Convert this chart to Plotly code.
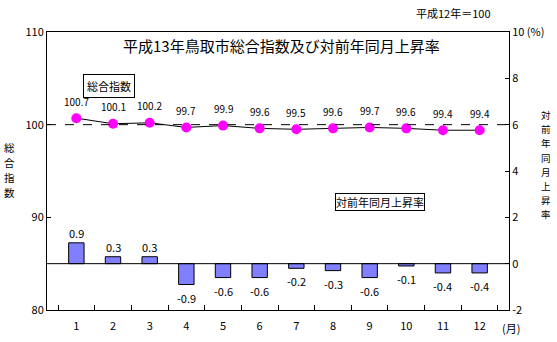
import plotly.graph_objects as go

months = ["1", "2", "3", "4", "5", "6", "7", "8", "9", "10", "11", "12"]
index_vals = [100.7, 100.1, 100.2, 99.7, 99.9, 99.6, 99.5, 99.6, 99.7, 99.6, 99.4, 99.4]
rate_vals = [0.9, 0.3, 0.3, -0.9, -0.6, -0.6, -0.2, -0.3, -0.6, -0.1, -0.4, -0.4]
left_ticks = [80, 90, 100, 110]
right_ticks = [-2, 0, 2, 4, 6, 8, 10]
right_tick_text = ["-2", "0", "2", "4", "6", "8", "10 (%)"]
left_title = "総合指数"
right_title = "対前年同月上昇率"

FONT = "Noto Sans CJK JP"
L, R, T, B = 47, 509, 32, 310

fig = go.Figure()

fig.add_trace(go.Bar(
    x=months, y=rate_vals, yaxis="y2", width=0.42,
    marker=dict(color="#8080FF", line=dict(color="black", width=1)),
    showlegend=False,
))
fig.add_trace(go.Scatter(
    x=months, y=index_vals, mode="lines+markers",
    line=dict(color="black", width=1),
    marker=dict(color="#FF00FF", size=10),
    showlegend=False,
))

# value labels for index line
for i, v in enumerate(index_vals):
    fig.add_annotation(x=i, y=v, text=f"{v:.1f}", showarrow=False, yshift=17,
                       xanchor="center", yanchor="middle",
                       font=dict(size=10, color="black", family=FONT))
# value labels for bars
for i, v in enumerate(rate_vals):
    fig.add_annotation(x=i, y=v, yref="y2", text=f"{v:.1f}",
                       showarrow=False, yshift=(10 if v >= 0 else -13),
                       xanchor="center", yanchor="middle",
                       font=dict(size=11, color="black", family=FONT))

# dashed reference at 100 and zero line
fig.add_shape(type="line", xref="paper", x0=0, x1=1, yref="y", y0=100, y1=100,
              line=dict(color="black", width=1, dash="dash"))
fig.add_shape(type="line", xref="paper", x0=0, x1=1, yref="y2", y0=0, y1=0,
              line=dict(color="black", width=1))

fig.update_layout(
    width=557, height=342,
    margin=dict(l=L, r=557 - R, t=T, b=342 - B),
    paper_bgcolor="white", plot_bgcolor="white",
    font=dict(family=FONT, size=10, color="black"),
    xaxis=dict(type="category", showline=True, linecolor="black", linewidth=1, mirror=True,
               ticks="inside", ticklen=5, tickcolor="black", tickson="boundaries",
               ticklabelstandoff=6, automargin=False,
               showgrid=False, tickfont=dict(size=11, family=FONT)),
    yaxis=dict(range=[80, 110], tickvals=left_ticks, showline=True, linecolor="black",
               linewidth=1, ticks="inside", ticklen=4, tickcolor="black", showgrid=False,
               zeroline=False, automargin=False, tickfont=dict(size=11, family=FONT)),
    yaxis2=dict(range=[-2, 10], tickvals=right_ticks, ticktext=right_tick_text, overlaying="y",
                side="right", showline=True, linecolor="black", linewidth=1, ticks="inside",
                ticklen=4, tickcolor="black", showgrid=False, zeroline=False, automargin=False,
                tickfont=dict(size=11, family=FONT)),
)

def paper_x(px):
    return (px - L) / float(R - L)

def paper_y(py):
    return (B - py) / float(B - T)

# title and notes
fig.add_annotation(xref="paper", yref="paper", x=paper_x(281), y=paper_y(45),
                   xanchor="center", yanchor="middle",
                   text="平成13年鳥取市総合指数及び対前年同月上昇率",
                   showarrow=False, font=dict(size=15, family=FONT))
fig.add_annotation(xref="paper", yref="paper", x=paper_x(493), y=paper_y(13),
                   xanchor="right", yanchor="middle",
                   text="平成12年＝100", showarrow=False, font=dict(size=11, family=FONT))
fig.add_annotation(xref="paper", yref="paper", x=paper_x(500), y=paper_y(328),
                   xanchor="left", yanchor="middle",
                   text="(月)", showarrow=False, font=dict(size=11, family=FONT))
# axis titles (vertical stacked, one char each)
for k, ch in enumerate(left_title):
    fig.add_annotation(xref="paper", yref="paper", x=paper_x(9), y=paper_y(147 + k * 15),
                       xanchor="center", yanchor="middle", text=ch,
                       showarrow=False, font=dict(size=10.5, family=FONT))
for k, ch in enumerate(right_title):
    fig.add_annotation(xref="paper", yref="paper", x=paper_x(546), y=paper_y(115 + k * 14.2),
                       xanchor="center", yanchor="middle", text=ch,
                       showarrow=False, font=dict(size=9.5, family=FONT))
# boxed labels
fig.add_annotation(xref="paper", yref="paper", x=paper_x(108.5), y=paper_y(86), text=left_title,
                   xanchor="center", yanchor="middle",
                   showarrow=False, bordercolor="black", borderwidth=1, borderpad=3,
                   bgcolor="white", font=dict(size=11, family=FONT))
fig.add_annotation(xref="paper", yref="paper", x=paper_x(380), y=paper_y(202), text=right_title,
                   xanchor="center", yanchor="middle",
                   showarrow=False, bordercolor="black", borderwidth=1, borderpad=0,
                   bgcolor="white", font=dict(size=11, family=FONT))

fig.write_html("out.html")
